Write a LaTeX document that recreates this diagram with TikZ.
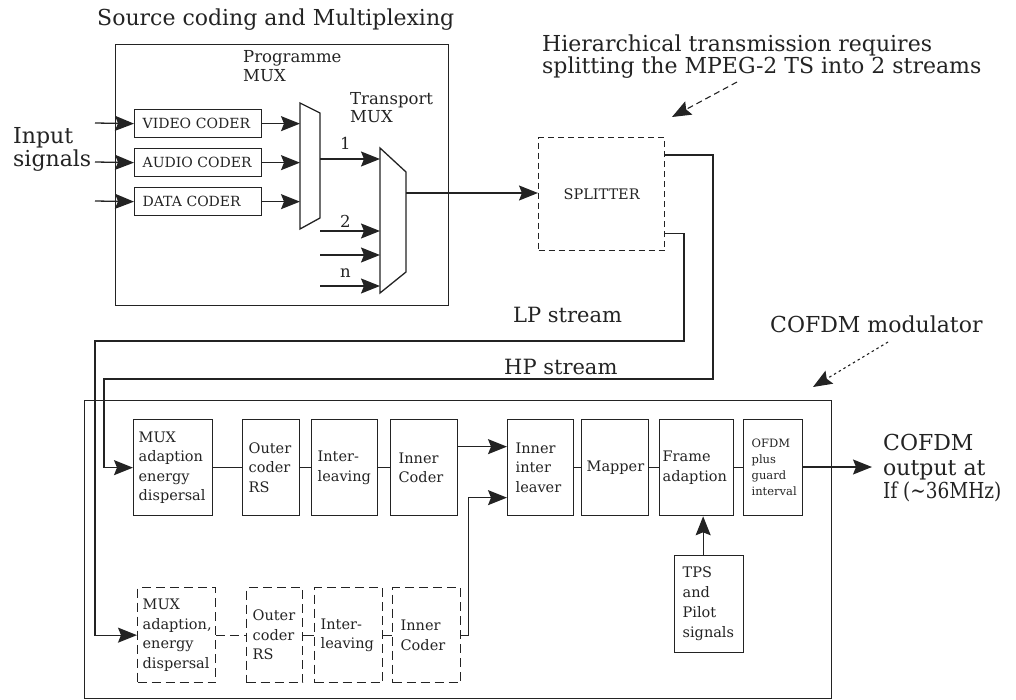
\documentclass[tikz,border=0pt]{standalone}
\usepackage{fontspec}
\setmainfont{DejaVu Serif}
\usetikzlibrary{arrows.meta}
\definecolor{ink}{RGB}{35,35,35}
\begin{document}
\begin{tikzpicture}[x=1pt,y=-1pt,
  >={Stealth[length=19pt,width=15pt,inset=3pt]},
  every node/.style={text=ink},
  line/.style={draw=ink, line width=1.3pt},
  arr/.style={line, ->},
  big/.style={font=\fontsize{22}{23}\selectfont, inner sep=0pt, anchor=base west},
  streamlbl/.style={font=\fontsize{21}{23}\selectfont, inner sep=0pt, anchor=base west},
  mid/.style={font=\fontsize{16.5}{18}\selectfont, inner sep=0pt, anchor=base west},
  coder/.style={draw=ink, line width=1.3pt, anchor=north west, minimum height=28pt,
    inner xsep=8pt, inner ysep=0pt, font=\fontsize{14}{16}\selectfont, text width=111pt, align=left},
  blk/.style={draw=ink, line width=1.3pt, anchor=north west, minimum height=96pt,
    inner ysep=0pt, align=left, font=\fontsize{14.5}{19.5}\selectfont},
  dblk/.style={blk, minimum height=95pt, dash pattern=on 9pt off 5pt},
]
\useasboundingbox (0,0) rectangle (1016,700);

% ---------- source coding and multiplexing ----------
\node[big] (title) at (97,26) {Source coding and Multiplexing};
\node[draw=ink, line width=1.3pt, anchor=north west, minimum width=333pt, minimum height=261pt, inner sep=0pt] (src) at (115,44) {};

\node[big] (inp1) at (13,144) {Input};
\node[big] (inp2) at (13,167) {signals};

\node[mid] (pmlbl1) at (243,63) {Programme};
\node[mid] (pmlbl2) at (243,82) {MUX};
\node[mid] (tmlbl1) at (350,105) {Transport};
\node[mid] (tmlbl2) at (350,123) {MUX};

\node[coder] (video) at (134,109) {VIDEO CODER};
\node[coder] (audio) at (134,148) {AUDIO CODER};
\node[coder] (data)  at (134,187) {DATA CODER};

\coordinate (iv) at (95,123);
\coordinate (ia) at (95,162);
\coordinate (id) at (95,201);
\draw[arr] (iv) -- (video.west);
\draw[arr] (ia) -- (audio.west);
\draw[arr] (id) -- (data.west);

% programme MUX
\draw[line, line join=miter] (300,103) -- (320,113) -- (320,218) -- (300,229) -- cycle;
\coordinate (pmL) at (300,166);
\coordinate (pmR) at (320,159);
\draw[arr] (video.east) -- (video.east -| pmL);
\draw[arr] (audio.east) -- (audio.east -| pmL);
\draw[arr] (data.east) -- (data.east -| pmL);

% transport MUX
\draw[line, line join=miter] (380,148) -- (406,172) -- (406,272) -- (380,293) -- cycle;
\coordinate (tmL) at (380,220);
\coordinate (tmR) at (406,193);
\draw[arr] (pmR) -- (pmR -| tmL);
\coordinate (t2) at (320,231);
\coordinate (t3) at (320,255);
\coordinate (tn) at (320,286);
\draw[arr] (t2) -- (t2 -| tmL);
\draw[arr] (t3) -- (t3 -| tmL);
\draw[arr] (tn) -- (tn -| tmL);
\node[mid] (n1) at (340,150) {1};
\node[mid] (n2) at (340,228) {2};
\node[mid] (nn) at (340,278) {n};

% ---------- splitter ----------
\node[draw=ink, line width=1.3pt, dash pattern=on 6pt off 4pt, anchor=north west,
  minimum width=126pt, minimum height=113pt, inner sep=0pt,
  font=\fontsize{14.5}{16}\selectfont] (split) at (538,137) {SPLITTER};
\draw[arr] (tmR) -- (tmR -| split.west);

\node[big] (hier1) at (542,52) {Hierarchical transmission requires};
\node[big] (hier2) at (542,74) {splitting the MPEG-2 TS into 2 streams};
\coordinate (hA) at (737,82);
\coordinate (hB) at (672,117);
\draw[arr, line width=1.1pt, dash pattern=on 6pt off 4pt] (hA) -- (hB);

% ---------- COFDM modulator ----------
\node[draw=ink, line width=1.3pt, anchor=north west, minimum width=747pt, minimum height=298pt, inner sep=0pt] (mod) at (84,400) {};
\node[big] (modlbl) at (770,332) {COFDM modulator};
\coordinate (mA) at (888,342);
\coordinate (mB) at (813,387);
\draw[arr, line width=1.1pt, dash pattern=on 2.5pt off 3pt] (mA) -- (mB);

% top (HP) chain
\node[blk, inner xsep=5pt, text width=69pt] (muxA) at (133,419) {MUX\\adaption\\energy\\dispersal};
\node[blk, inner xsep=6pt, text width=45pt] (outerA) at (242,419) {Outer\\coder\\RS};
\node[blk, inner xsep=6pt, text width=54pt] (interA) at (311,419) {Inter-\\leaving};
\node[blk, inner xsep=8pt, text width=51pt] (innerA) at (390,419) {Inner\\Coder};
\node[blk, inner xsep=8pt, text width=50pt] (ileave) at (507,419) {Inner\\inter\\leaver};
\node[blk, inner xsep=5pt, text width=57pt] (mapper) at (581,419) {Mapper};
\node[blk, inner xsep=3pt, text width=68pt] (frame) at (659,419) {Frame\\adaption};
\node[blk, inner xsep=8pt, text width=43pt, font=\fontsize{11.5}{16}\selectfont] (ofdm) at (743,419) {OFDM\\plus\\guard\\interval};
\node[blk, inner xsep=8pt, text width=53pt, minimum height=97pt, font=\fontsize{14.5}{20}\selectfont] (tps) at (674,555) {TPS\\and\\Pilot\\signals};

\draw[line] (muxA) -- (outerA);
\draw[line] (outerA) -- (interA);
\draw[line] (interA) -- (innerA);
\draw[arr] ([yshift=21pt]innerA.east) -- ([yshift=21pt]innerA.east -| ileave.west);
\draw[line] (ileave) -- (mapper);
\draw[line] (mapper) -- (frame);
\draw[line] (frame) -- (ofdm);
\draw[arr] ([xshift=-6pt]tps.north) -- ([xshift=-6pt]tps.north |- frame.south);

% bottom (LP) chain, dashed
\node[dblk, inner xsep=5pt, text width=68pt] (muxB) at (137,587) {MUX\\adaption,\\energy\\dispersal};
\node[dblk, inner xsep=6pt, text width=44pt] (outerB) at (246,587) {Outer\\coder\\RS};
\node[dblk, inner xsep=6pt, text width=56pt] (interB) at (314,587) {Inter-\\leaving};
\node[dblk, inner xsep=8pt, text width=52pt] (innerB) at (392,587) {Inner\\Coder};
\draw[line, dash pattern=on 9pt off 5pt] (muxB) -- (outerB);
\draw[line] (outerB) -- (interB);
\draw[line] (interB) -- (innerB);
\draw[arr] (innerB.east) -- ++(7,0) |- ([yshift=-30pt]ileave.west);

% streams from the splitter
\draw[arr] ([yshift=-18pt]split.north east) -| (713,379) -- (104,379) |- (muxA.west);
\draw[arr] ([yshift=18pt]split.south east) -| (684,341) -- (95,341) |- (muxB.west);
\node[streamlbl] (lp) at (513,322) {LP stream};
\node[streamlbl] (hp) at (504,374) {HP stream};

% output
\node[big] (out1) at (883,450) {COFDM};
\node[big] (out2) at (883,475) {output at};
\node[big] (out3) at (883,498) {\scalebox{0.84}[1]{If (\textasciitilde36MHz)}};
\coordinate (outtip) at (872,467);
\draw[arr] (ofdm.east |- outtip) -- (outtip);
\end{tikzpicture}
\end{document}
